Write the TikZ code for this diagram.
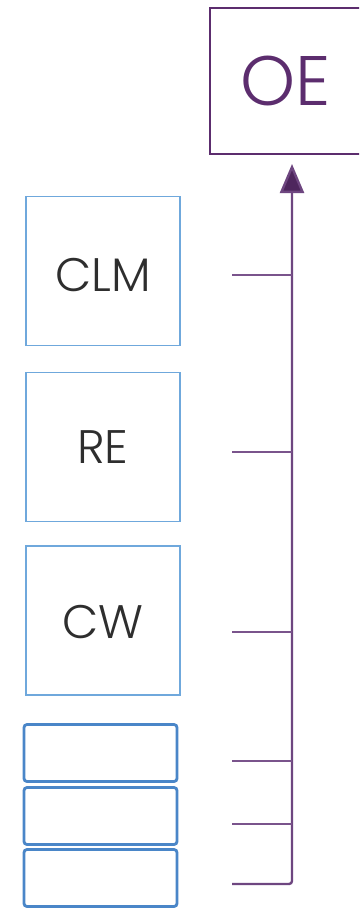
\documentclass[tikz,border=0pt]{standalone}
\usepackage{fontspec}
\setmainfont{Poppins}[UprightFont={* Light}]
\usetikzlibrary{arrows.meta}
\definecolor{boxblue}{HTML}{6FA8DC}
\definecolor{slotblue}{HTML}{4A86C8}
\definecolor{spine}{HTML}{6E4680}
\definecolor{twig}{HTML}{7A548C}
\definecolor{oepurple}{HTML}{5C2D6E}
\definecolor{labelgray}{HTML}{2E2E2E}
\begin{document}
\begin{tikzpicture}[x=1pt,y=-1pt,
  factor/.style={draw=boxblue,line width=1.8pt,minimum width=154pt,minimum height=149pt,
    inner sep=0pt,text=labelgray,font=\fontsize{47}{50}\selectfont},
  lowered/.style={text height=#1,text depth=0pt},
  slot/.style={draw=slotblue,line width=2.8pt,rounded corners=3pt,minimum width=153pt,
    minimum height=57pt,inner sep=0pt},
  outcome/.style={draw=oepurple,line width=2pt,minimum width=164pt,minimum height=146pt,inner sep=0pt},
  branch/.style={draw=twig,line width=2.4pt},
  trunk/.style={draw=spine,line width=2.4pt,rounded corners=3pt,
    -{Triangle[length=29pt,width=24pt,fill=oepurple!85!black]},shorten >=9pt}]
\clip (0,0) rectangle (359,908);
\fill[white] (0,0) rectangle (359,908);

% outcome box (right edge runs past the page)
\node[outcome] (oe) at (292,81) {};
\node[text=oepurple,font=\fontsize{70}{74}\selectfont] (oetext) at (286,81) {OE};

% contributing factors
\node[factor,lowered=41pt] (clm) at (103,271) {CLM};
\node[factor] (re)  at (103,447) {RE};
\node[factor,lowered=36pt] (cw)  at (103,620.5) {CW};

% empty slots
\node[slot] (b1) at (100.5,753) {};
\node[slot] (b2) at (100.5,816) {};
\node[slot] (b3) at (100.5,878) {};

% free ends of the branches
\coordinate (t1) at (232,275);
\coordinate (t2) at (232,452);
\coordinate (t3) at (232,632);
\coordinate (t4) at (232,761);
\coordinate (t5) at (232,824);
\coordinate (t6) at (232,884);

% trunk with arrow into the outcome
\draw[trunk] (t6) -| (oe.south);
\foreach \t in {t1,t2,t3,t4,t5}
  \draw[branch] (\t) -- (\t -| oe.south);
\end{tikzpicture}
\end{document}
